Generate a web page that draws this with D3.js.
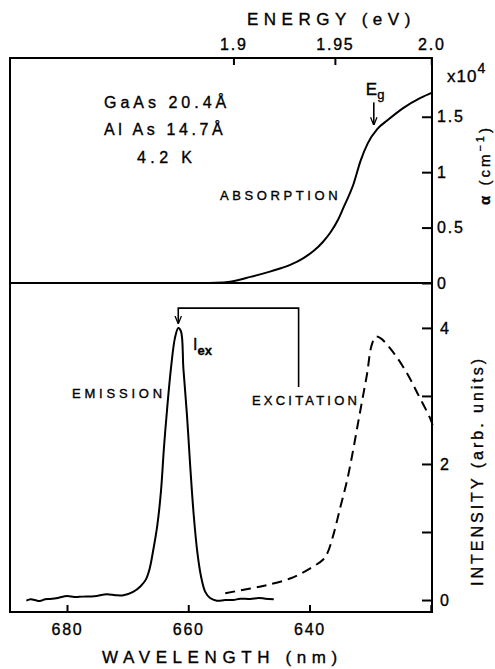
<!DOCTYPE html>
<html><head><meta charset="utf-8">
<script src="https://cdn.jsdelivr.net/npm/d3@7"></script>
<style>
body{margin:0;background:#fff;}
svg{display:block;font-family:"Liberation Sans",Arial,sans-serif;}
text{fill:#000;stroke:#000;stroke-width:0.35px;}
</style></head>
<body>
<svg id="c" width="495" height="669"></svg>
<script>
// ---- data ----
const energyTicks = [1.9, 1.95, 2.0];
const energyTickLabels = ["1.9", "1.95", "2.0"];
const wavelengthTicks = [680, 660, 640, 620];
const wavelengthTickLabels = ["680", "660", "640", ""];
const absTicks = [0, 0.5, 1, 1.5];
const absTickLabels = ["0", "0.5", "1", "1.5"];
const intTicks = [0, 1, 2, 3, 4];
const intTickLabels = ["0", "", "2", "", "4"];

const absWavelength = [658, 655.5, 653.1, 649.75, 646.4, 643.1, 641.0, 639.3, 637.8, 636.5, 635.3, 634.4, 632.7, 631.6, 630.4, 628.8, 627.1, 624.5, 621.7, 619.7];
const absValue      = [0, 0.002, 0.012, 0.055, 0.105, 0.165, 0.225, 0.29, 0.37, 0.46, 0.57, 0.68, 0.90, 1.10, 1.26, 1.39, 1.47, 1.58, 1.67, 1.72];

const emWavelength = [686.7, 686.0, 685.3, 684.5, 683.6, 682.8, 681.5, 680.0, 678.8, 677.4, 675.5, 673.4, 672.0, 670.7, 669.1, 667.9, 667.0, 666.4, 665.8, 665.1, 664.5, 664.0, 663.4, 662.8, 662.2, 661.65, 661.2, 660.8, 660.2, 659.7, 659.1, 658.5, 657.9, 657.2, 656.4, 655.3, 653.9, 652.6, 651.4, 649.75, 648.4, 647.3, 645.9];
const emValue      = [-0.01, 0.01, 0.0, -0.015, 0.01, 0.015, 0.03, 0.06, 0.045, 0.05, 0.055, 0.085, 0.07, 0.07, 0.12, 0.2, 0.3, 0.45, 0.72, 1.1, 1.6, 2.25, 2.9, 3.45, 3.85, 4.0, 3.95, 3.4, 2.7, 2.0, 1.25, 0.7, 0.35, 0.12, 0.03, -0.01, 0.0, 0.0, 0.02, 0.015, 0.03, 0.02, 0.01];

const exWavelength = [653.9, 649.75, 647.0, 643.1, 639.8, 637.7, 637.0, 636.0, 634.9, 633.8, 632.9, 632.1, 631.3, 630.5, 629.8, 629.1, 628.3, 626.1, 623.9, 622.2, 620.0, 619.7];
const exValue      = [0.10, 0.17, 0.22, 0.32, 0.47, 0.60, 0.70, 0.98, 1.37, 1.76, 2.16, 2.55, 2.94, 3.33, 3.73, 3.87, 3.85, 3.63, 3.33, 3.04, 2.65, 2.57];

// ---- layout ----
const svg = d3.select("#c");
const L = 10, R = 432, T = 58, M = 283, B = 612;
const x = d3.scaleLinear().domain([689.4, 619.8]).range([L, R]);
const yA = d3.scaleLinear().domain([0, 2.03]).range([M, T]);
const yI = d3.scaleLinear().domain([-0.176, 4.66]).range([B, M]);
const hc = 1239.84;

const fs = 16;
// frame
const frame = svg.append("g").attr("fill","none").attr("stroke","#000").attr("stroke-width",2);
frame.append("rect").attr("x",L).attr("y",T).attr("width",R-L).attr("height",B-T);
frame.append("line").attr("x1",L).attr("x2",R).attr("y1",M).attr("y2",M);

function styleAxis(g){
  g.select(".domain").remove();
  g.selectAll(".tick line").attr("stroke","#000").attr("stroke-width",2);
  g.selectAll(".tick text").attr("font-size",fs).attr("font-family","Liberation Sans, Arial, sans-serif").attr("fill","#000").attr("letter-spacing",1.8);
}

// top energy axis
svg.append("g").attr("transform",`translate(0,${T})`)
  .call(d3.axisTop(x).tickValues(energyTicks.map(e=>hc/e))
    .tickFormat((d,i)=>energyTickLabels[i]).tickSizeInner(-7).tickSizeOuter(0).tickPadding(8))
  .call(styleAxis);

// bottom wavelength axis
svg.append("g").attr("transform",`translate(0,${B})`)
  .call(d3.axisBottom(x).tickValues(wavelengthTicks)
    .tickFormat((d,i)=>wavelengthTickLabels[i]).tickSizeInner(-7).tickSizeOuter(0).tickPadding(12))
  .call(styleAxis);

// right absorption axis
svg.append("g").attr("transform",`translate(${R},0)`)
  .call(d3.axisRight(yA).tickValues(absTicks)
    .tickFormat((d,i)=>absTickLabels[i]).tickSizeInner(-10).tickSizeOuter(0).tickPadding(5))
  .call(styleAxis);

// right intensity axis
svg.append("g").attr("transform",`translate(${R},0)`)
  .call(d3.axisRight(yI).tickValues(intTicks)
    .tickFormat((d,i)=>intTickLabels[i]).tickSizeInner(-10).tickSizeOuter(0).tickPadding(8))
  .call(styleAxis);

// curves (sorted by screen x)
const byX = (a,b)=>b[0]-a[0];
const absData = absWavelength.map((w,i)=>[w,absValue[i]]).sort(byX);
const emData = emWavelength.map((w,i)=>[w,emValue[i]]).sort(byX);
const exData = exWavelength.map((w,i)=>[w,exValue[i]]).sort(byX);

svg.append("path").datum(absData)
  .attr("d", d3.line().x(d=>x(d[0])).y(d=>yA(d[1])).curve(d3.curveMonotoneX))
  .attr("fill","none").attr("stroke","#000").attr("stroke-width",2);
svg.append("path").datum(emData)
  .attr("d", d3.line().x(d=>x(d[0])).y(d=>yI(d[1])).curve(d3.curveCatmullRom))
  .attr("fill","none").attr("stroke","#000").attr("stroke-width",2);
svg.append("path").datum(exData)
  .attr("d", d3.line().x(d=>x(d[0])).y(d=>yI(d[1])).curve(d3.curveCatmullRom))
  .attr("fill","none").attr("stroke","#000").attr("stroke-width",2).attr("stroke-dasharray","10,6");

// arrowhead
svg.append("defs").append("marker").attr("id","ah").attr("viewBox","0 0 10 10")
  .attr("refX",9).attr("refY",5).attr("markerWidth",8).attr("markerHeight",8).attr("orient","auto")
  .attr("markerUnits","userSpaceOnUse")
  .append("path").attr("d","M0,1 L10,5 L0,9").attr("fill","none").attr("stroke","#000").attr("stroke-width",1.6);

// Eg arrow
const egW = 629.4;
svg.append("line").attr("x1",x(egW)).attr("x2",x(egW)).attr("y1",yA(1.63)).attr("y2",yA(1.43))
  .attr("stroke","#000").attr("stroke-width",1.6).attr("marker-end","url(#ah)");
const eg = svg.append("text").attr("x",x(egW)-8).attr("y",yA(1.7)).attr("font-size",17);
eg.append("tspan").text("E");
eg.append("tspan").attr("font-size",13).attr("dy",4).text("g");

// Iex bracket
const pk = 661.65, br = 641.8;
svg.append("path")
  .attr("d",`M${x(br)},${yI(3.13)} L${x(br)},${yI(4.29)} L${x(pk)},${yI(4.29)} L${x(pk)},${yI(4.07)}`)
  .attr("fill","none").attr("stroke","#000").attr("stroke-width",1.6).attr("marker-end","url(#ah)");
const iex = svg.append("text").attr("x",193).attr("y",yI(3.67)).attr("font-size",16);
iex.append("tspan").text("I");
iex.append("tspan").attr("font-size",13).attr("dy",5).attr("font-weight","bold").text("ex");

// sample labels
function lab(tx,xx,yy,size,ls,anchor){
  return svg.append("text").attr("x",xx).attr("y",yy).attr("font-size",size)
    .attr("letter-spacing",ls).attr("text-anchor",anchor||"start").text(tx);
}
lab("GaAs 20.4Å",104,108,16,4);
lab("Al As 14.7Å",104,135,16,3.6);
lab("4.2 K",137,163,16,4.4);
lab("ABSORPTION",220,200,13,3.6);
lab("EMISSION",72,398,13,3.8);
lab("EXCITATION",252,405,13,3.2);

// axis titles
lab("ENERGY (eV)",247,25,17,5.5);
lab("WAVELENGTH (nm)",102,663,17,5.6);

const xt = svg.append("text").attr("x",447).attr("y",82).attr("font-size",17).attr("letter-spacing",1);
xt.append("tspan").text("x10");
xt.append("tspan").attr("dy",-9).attr("font-size",14).text("4");

svg.append("text").attr("transform","translate(490,205) rotate(-90)").attr("font-size",15)
  .attr("letter-spacing",3)
  .call(t=>{t.append("tspan").attr("font-weight","bold").text("α");
            t.append("tspan").text(" (cm");
            t.append("tspan").attr("dy",-6).attr("font-size",11).text("−1");
            t.append("tspan").attr("dy",6).text(")");});

svg.append("text").attr("transform","translate(483,586) rotate(-90)").attr("font-size",16)
  .attr("letter-spacing",3).text("INTENSITY (arb. units)");
</script>
</body></html>
